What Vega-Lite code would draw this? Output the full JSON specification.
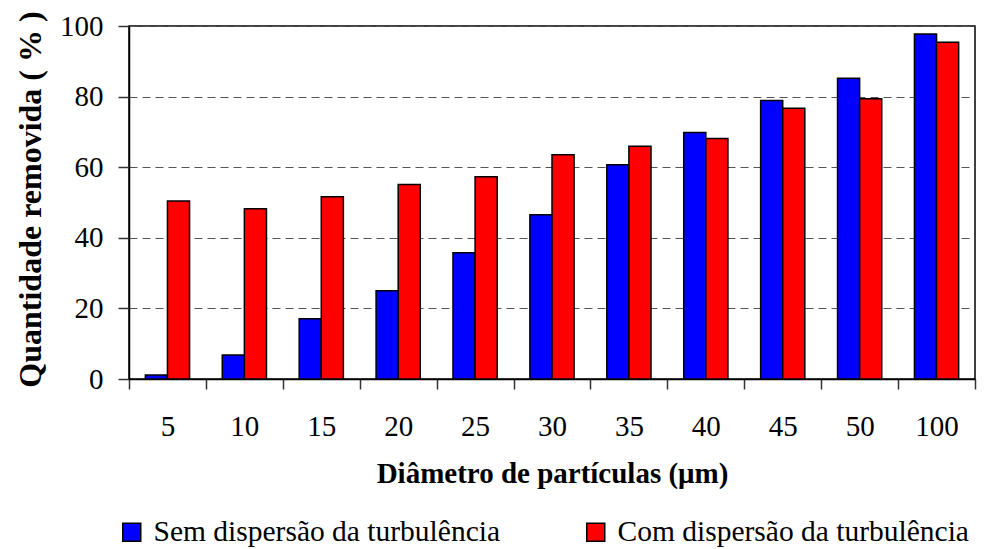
{
  "$schema": "https://vega.github.io/schema/vega-lite/v6.json",
  "autosize": {"type": "none"},
  "padding": {"left": 129, "top": 26, "right": 10, "bottom": 170},
  "width": 846,
  "height": 353,
  "background": "white",
  "config": {
    "font": "Times New Roman, Liberation Serif, serif",
    "view": {"stroke": "black", "strokeWidth": 1.5},
    "axis": {"labelFont": "Times New Roman, Liberation Serif, serif", "titleFont": "Times New Roman, Liberation Serif, serif", "labelColor": "black", "titleColor": "black", "domainColor": "black", "tickColor": "#333", "domainWidth": 1.5, "tickWidth": 1.5},
    "legend": {"labelFont": "Times New Roman, Liberation Serif, serif"}
  },
  "data": {
    "values": [
      {"d": "5", "serie": "Sem dispersão da turbulência", "v": 1.1},
      {"d": "5", "serie": "Com dispersão da turbulência", "v": 50.4},
      {"d": "10", "serie": "Sem dispersão da turbulência", "v": 6.8},
      {"d": "10", "serie": "Com dispersão da turbulência", "v": 48.2},
      {"d": "15", "serie": "Sem dispersão da turbulência", "v": 17.1},
      {"d": "15", "serie": "Com dispersão da turbulência", "v": 51.6},
      {"d": "20", "serie": "Sem dispersão da turbulência", "v": 25.0},
      {"d": "20", "serie": "Com dispersão da turbulência", "v": 55.1},
      {"d": "25", "serie": "Sem dispersão da turbulência", "v": 35.8},
      {"d": "25", "serie": "Com dispersão da turbulência", "v": 57.3},
      {"d": "30", "serie": "Sem dispersão da turbulência", "v": 46.5},
      {"d": "30", "serie": "Com dispersão da turbulência", "v": 63.5},
      {"d": "35", "serie": "Sem dispersão da turbulência", "v": 60.7},
      {"d": "35", "serie": "Com dispersão da turbulência", "v": 65.9},
      {"d": "40", "serie": "Sem dispersão da turbulência", "v": 69.8},
      {"d": "40", "serie": "Com dispersão da turbulência", "v": 68.1},
      {"d": "45", "serie": "Sem dispersão da turbulência", "v": 78.9},
      {"d": "45", "serie": "Com dispersão da turbulência", "v": 76.7},
      {"d": "50", "serie": "Sem dispersão da turbulência", "v": 85.2},
      {"d": "50", "serie": "Com dispersão da turbulência", "v": 79.4},
      {"d": "100", "serie": "Sem dispersão da turbulência", "v": 97.7},
      {"d": "100", "serie": "Com dispersão da turbulência", "v": 95.4}
    ]
  },
  "mark": {"type": "bar", "stroke": "black", "strokeWidth": 1.5, "fillOpacity": 1},
  "encoding": {
    "x": {
      "field": "d", "type": "ordinal",
      "sort": ["5", "10", "15", "20", "25", "30", "35", "40", "45", "50", "100"],
      "scale": {"paddingInner": 0, "paddingOuter": 0},
      "axis": {
        "title": "Diâmetro de partículas (μm)",
        "titleFontSize": 29, "titleFontWeight": "bold",
        "titleBaseline": "alphabetic", "titleY": 103,
        "labelFontSize": 29, "labelAngle": 0, "labelPadding": 23, "tickSize": 10,
        "tickBand": "extent", "grid": false
      }
    },
    "xOffset": {
      "field": "serie", "type": "nominal",
      "sort": ["Sem dispersão da turbulência", "Com dispersão da turbulência"],
      "scale": {"paddingInner": 0, "paddingOuter": 0.74}
    },
    "y": {
      "field": "v", "type": "quantitative",
      "scale": {"domain": [0, 100], "nice": false},
      "axis": {
        "title": "Quantidade removida ( % )",
        "titleFontSize": 32, "titleFontWeight": "bold",
        "titleBaseline": "alphabetic", "titleAngle": -90, "titleX": -89, "titleY": 173,
        "values": [0, 20, 40, 60, 80, 100],
        "labelFontSize": 29, "labelPadding": 15, "tickSize": 11,
        "grid": true, "gridColor": "#555", "gridDash": [8, 5], "gridWidth": 1.2
      }
    },
    "color": {
      "field": "serie", "type": "nominal",
      "sort": ["Sem dispersão da turbulência", "Com dispersão da turbulência"],
      "scale": {"range": ["#0000FF", "#FF0000"]},
      "legend": {
        "title": null, "orient": "none", "direction": "horizontal", "columns": 2,
        "legendX": -12, "legendY": 491, "padding": 0, "offset": 0,
        "symbolType": "square", "symbolSize": 324, "symbolStrokeColor": "black", "symbolStrokeWidth": 1.5, "symbolFillOpacity": 1,
        "labelFontSize": 29.5, "labelColor": "black", "labelOffset": 7, "labelLimit": 500,
        "columnPadding": 80
      }
    }
  }
}
